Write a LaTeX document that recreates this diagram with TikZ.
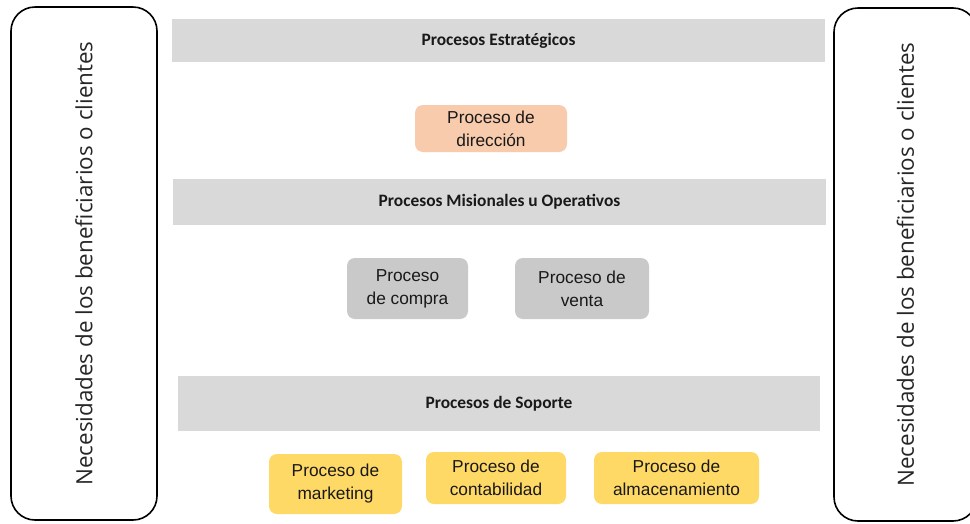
\documentclass[tikz,border=0pt]{standalone}
\usepackage{fontspec}
\setmainfont{Liberation Sans}
\newfontfamily\titulofont{Carlito}
\newfontfamily\ladofont{Open Sans}
\usepackage{xcolor}
\usepackage{tikz}
\usetikzlibrary{positioning}
\definecolor{grisbarra}{HTML}{D9D9D9}
\definecolor{grisproc}{HTML}{C9C9C9}
\definecolor{salmon}{HTML}{F8CBAD}
\definecolor{amarillo}{HTML}{FFD966}

\begin{document}
\begin{tikzpicture}[x=1pt,y=-1pt,
	barra/.style={fill=grisbarra,inner sep=0pt,font=\titulofont\bfseries\fontsize{17.4}{20}\selectfont,text=black!90},
	proceso/.style={rounded corners=8pt,align=center,inner sep=0pt,font=\fontsize{17.3}{23}\selectfont,text=black!90},
	lado/.style={draw,line width=1.6pt,rounded corners=24pt,rotate=90,minimum width=513pt,minimum height=146pt,font=\ladofont\fontsize{22.4}{26}\selectfont,text=black!85}]
	\useasboundingbox (0,0) rectangle (970,523);
	% lados
	\node[lado] (izq) at (84,263.5) {Necesidades de los beneficiarios o clientes};
	\node[lado,minimum height=143pt] (der) at (905.5,264.5) {Necesidades de los beneficiarios o clientes};
	% barras
	\node[barra,minimum width=653pt,minimum height=43pt] (estrategicos) at (498.5,40.5) {Procesos Estratégicos};
	\node[barra,minimum width=653pt,minimum height=46pt] (misionales) at (499.5,201.5) {Procesos Misionales u Operativos};
	\node[barra,minimum width=642pt,minimum height=55pt] (soporte) at (499,403.5) {Procesos de Soporte};
	% procesos
	\node[proceso,fill=salmon,minimum width=152pt,minimum height=47pt] (direccion) at (491,128.5) {Proceso de\\dirección};
	\node[proceso,fill=grisproc,minimum width=121pt,minimum height=61pt] (compra) at (407.5,288.5) {Proceso\\de compra};
	\node[proceso,fill=grisproc,minimum width=134pt,minimum height=61pt] (venta) at (582,288.5) {Proceso de\\venta};
	\node[proceso,fill=amarillo,minimum width=133pt,minimum height=60pt] (marketing) at (335.5,484) {Proceso de\\marketing};
	\node[proceso,fill=amarillo,minimum width=140pt,minimum height=52pt] (contabilidad) at (496,478) {Proceso de\\contabilidad};
	\node[proceso,fill=amarillo,minimum width=165pt,minimum height=52pt] (almacenamiento) at (676.5,478) {Proceso de\\almacenamiento};
\end{tikzpicture}
\end{document}
